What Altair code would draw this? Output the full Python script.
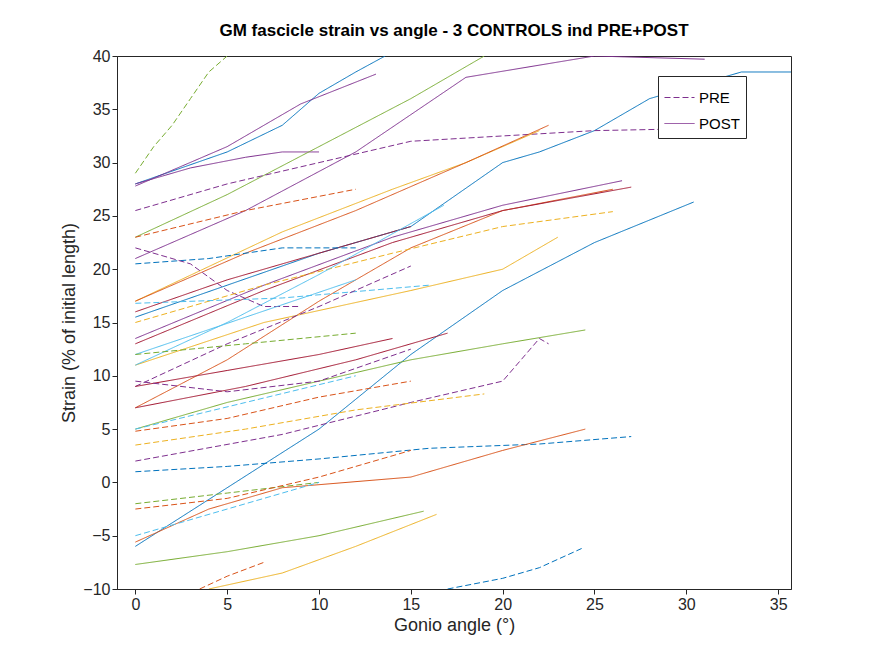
import altair as alt
import pandas as pd

BLUE = "#0072BD"
ORANGE = "#D95319"
YELLOW = "#EDB120"
PURPLE = "#7E2F8E"
GREEN = "#77AC30"
CYAN = "#4DBEEE"
RED = "#A2142F"

# each trace: (colour, phase, angle points, strain points)
TRACES = [
    (GREEN, "PRE", [0, 1, 2, 3, 4, 5], [29, 31.5, 33.5, 36, 38.5, 40]),
    (BLUE, "POST", [0, 5, 8, 10, 12, 13.6], [28, 31, 33.5, 36.5, 38.5, 40]),
    (PURPLE, "POST", [0, 5, 9, 13.1], [27.8, 31.5, 35.5, 38.3]),
    (PURPLE, "POST", [0, 3, 6, 8, 10], [28, 29.5, 30.5, 31, 31]),
    (BLUE, "POST", [0, 5, 10, 15, 20, 22, 25, 28, 30, 33, 35.7], [15.5, 18.5, 21.5, 24, 30, 31, 33, 36, 37, 38.5, 38.5]),
    (GREEN, "POST", [0, 5, 10, 15, 19], [23, 27, 31.5, 36, 40]),
    (PURPLE, "POST", [0, 6, 12, 18, 25, 31], [21, 25.5, 31, 38, 40, 39.7]),
    (PURPLE, "PRE", [0, 5, 10, 15, 20, 25, 31], [25.5, 28, 30, 32, 32.5, 33, 33.2]),
    (ORANGE, "PRE", [0, 6, 12], [23, 25.5, 27.5]),
    (YELLOW, "POST", [0, 8, 14, 18, 22], [17, 23.5, 27.5, 30, 33]),
    (ORANGE, "POST", [0, 6, 12, 18, 22.5], [17, 21.5, 25.5, 30, 33.5]),
    (RED, "POST", [0, 5, 10, 15], [16, 19, 21.5, 24]),
    (BLUE, "PRE", [0, 4, 8, 12], [20.5, 21, 22, 22]),
    (PURPLE, "PRE", [0, 3, 5, 7, 9], [22, 20.5, 18, 16.5, 16.5]),
    (BLUE, "POST", [0, 5, 10, 15, 20, 25, 30.4], [-6, -0.5, 5, 12, 18, 22.5, 26.3]),
    (ORANGE, "POST", [0, 5, 10, 15, 20, 26], [7, 11.5, 17, 22, 25.5, 27.5]),
    (RED, "POST", [0, 7, 14, 20, 27], [13, 18, 22.5, 25.5, 27.7]),
    (PURPLE, "POST", [0, 7, 14, 20, 26.5], [13.5, 18.5, 23, 26, 28.3]),
    (YELLOW, "PRE", [0, 7, 14, 20, 26], [15, 18.5, 21.5, 24, 25.4]),
    (YELLOW, "POST", [0, 7, 15, 20, 23], [11, 15, 18, 20, 23]),
    (CYAN, "PRE", [0, 8, 16], [16.8, 17.3, 18.5]),
    (PURPLE, "PRE", [0, 5, 10, 15], [9, 13, 16.5, 20.3]),
    (CYAN, "POST", [0, 6, 12], [12, 15.5, 19]),
    (CYAN, "POST", [0, 5, 10, 16.8], [11, 15, 19.5, 26]),
    (GREEN, "PRE", [0, 6, 12], [12, 13, 14]),
    (RED, "POST", [0, 5, 10, 14], [9, 10.5, 12, 13.5]),
    (GREEN, "POST", [0, 5, 10, 15, 20, 24.5], [5, 7.5, 9.5, 11.5, 13, 14.3]),
    (PURPLE, "PRE", [0, 8, 15, 20, 22, 22.5], [2, 4.5, 7.5, 9.5, 13.5, 13]),
    (BLUE, "PRE", [0, 5, 10, 16, 22, 27], [1, 1.5, 2.2, 3.2, 3.6, 4.3]),
    (YELLOW, "PRE", [0, 6, 12, 19], [3.5, 5, 6.8, 8.3]),
    (ORANGE, "PRE", [0, 5, 10, 15], [4.8, 6, 8, 9.5]),
    (CYAN, "PRE", [0, 6, 12], [5, 7.5, 10]),
    (PURPLE, "PRE", [0, 5, 10, 15], [9.5, 8.5, 9.5, 12.5]),
    (RED, "POST", [0, 6, 12, 17], [7, 9, 11.5, 14]),
    (GREEN, "PRE", [0, 5, 10], [-2, -1, 0]),
    (ORANGE, "PRE", [0, 5, 10, 15], [-2.5, -1.5, 0.5, 3]),
    (ORANGE, "POST", [0, 4, 8, 15, 20, 24.5], [-5.6, -2.5, -0.5, 0.5, 3, 5]),
    (CYAN, "PRE", [0, 5, 10], [-5, -2.5, 0]),
    (GREEN, "POST", [0, 5, 10, 15.7], [-7.7, -6.5, -5, -2.7]),
    (YELLOW, "POST", [4, 8, 12, 16.4], [-10, -8.5, -6, -3]),
    (ORANGE, "PRE", [3.5, 5, 7], [-10, -8.8, -7.5]),
    (BLUE, "PRE", [17, 20, 22, 24.3], [-10, -9, -8, -6.2]),
]

rows = []
colours = []
for i, (col, phase, xs, ys) in enumerate(TRACES):
    colours.append(col)
    for j, (x, y) in enumerate(zip(xs, ys)):
        rows.append({"id": f"t{i:02d}", "phase": phase, "angle": x, "strain": y, "o": j})
df = pd.DataFrame(rows)
ids = [f"t{i:02d}" for i in range(len(TRACES))]

chart = (
    alt.Chart(df)
    .mark_line(strokeWidth=1, clip=True)
    .encode(
        x=alt.X("angle:Q", title="Gonio angle (°)",
                scale=alt.Scale(domain=[-1, 35.7], nice=False),
                axis=alt.Axis(values=[0, 5, 10, 15, 20, 25, 30, 35], grid=False)),
        y=alt.Y("strain:Q", title="Strain (% of initial length)",
                scale=alt.Scale(domain=[-10, 40], nice=False),
                axis=alt.Axis(values=list(range(-10, 41, 5)), grid=False)),
        color=alt.Color("id:N", scale=alt.Scale(domain=ids, range=colours), legend=None),
        detail="id:N",
        strokeDash=alt.StrokeDash(
            "phase:N",
            scale=alt.Scale(domain=["PRE", "POST"], range=[[6, 3], [1, 0]]),
            legend=alt.Legend(title=None, orient="none", legendX=541, legendY=20,
                              symbolType="stroke", symbolStrokeColor=PURPLE,
                              symbolStrokeWidth=1, symbolSize=900,
                              labelFontSize=15, labelColor="#000",
                              strokeColor="#262626", fillColor="white",
                              padding=6),
        ),
        order="o:Q",
    )
    .properties(
        width=674, height=533,
        padding={"left": 52, "top": 14, "right": 5, "bottom": 5},
        title=alt.Title("GM fascicle strain vs angle - 3 CONTROLS ind PRE+POST",
                        fontSize=17, fontWeight="bold", font="Liberation Sans",
                        color="#000", offset=8),
    )
    .configure_view(stroke="#262626", strokeWidth=1)
    .configure_axis(labelFont="Liberation Sans", titleFont="Liberation Sans",
                    labelFontSize=16, titleFontSize=18, titleFontWeight="normal",
                    labelColor="#262626", titleColor="#262626",
                    domainColor="#262626", tickColor="#262626", tickSize=5)
    .configure_legend(labelFont="Liberation Sans")
)

chart.save("out.html", embed_options={"renderer": "svg", "actions": False})
